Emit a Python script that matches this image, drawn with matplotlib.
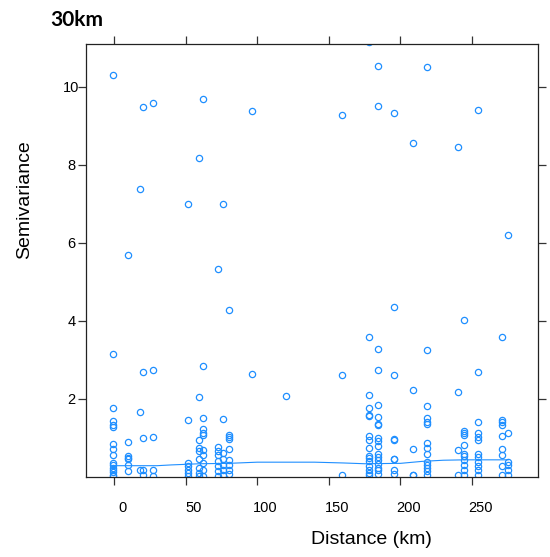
import matplotlib

matplotlib.use("Agg")
import matplotlib.pyplot as plt
import matplotlib.transforms as mtransforms
import numpy as np

# distance columns (km) and semivariance values in each column
lag_km = [-0.5, 10.0, 17.8, 20.5, 27.3, 51.6, 59.4, 62.1, 72.5, 75.9, 80.3,
          96.6, 120.0, 159.0, 178.3, 184.1, 195.5, 208.6, 218.8, 240.4, 244.6,
          254.4, 270.7, 275.3]
gamma_by_lag = [
    [10.30, 3.15, 1.76, 1.44, 1.32, 1.29, 0.85, 0.72, 0.57, 0.36, 0.32, 0.24, 0.18, 0.12, 0.06, 0.02],
    [5.69, 0.90, 0.53, 0.49, 0.45, 0.32, 0.15],
    [7.38, 1.66, 0.17],
    [9.47, 2.70, 1.00, 0.17, 0.05],
    [9.57, 2.74, 1.02, 0.19, 0.02],
    [6.99, 1.46, 0.36, 0.28, 0.19, 0.11, 0.02],
    [8.17, 2.04, 0.94, 0.74, 0.66, 0.45, 0.23, 0.11, 0.02],
    [9.69, 2.84, 1.51, 1.23, 1.14, 1.08, 0.70, 0.57, 0.36, 0.19, 0.02],
    [5.34, 0.78, 0.66, 0.57, 0.40, 0.28, 0.15, 0.02],
    [6.99, 1.48, 0.62, 0.45, 0.30, 0.17, 0.06],
    [4.29, 1.08, 1.02, 0.97, 0.72, 0.43, 0.32, 0.19, 0.07],
    [9.38, 2.64],
    [2.07],
    [9.28, 2.61, 0.04],
    [11.13, 3.59, 2.10, 1.76, 1.59, 1.57, 1.06, 0.96, 0.74, 0.53, 0.49, 0.40, 0.28, 0.19, 0.11, 0.04],
    [10.52, 9.51, 3.27, 2.74, 1.85, 1.53, 1.36, 1.34, 1.00, 0.91, 0.80, 0.60, 0.51, 0.43, 0.34, 0.24, 0.17, 0.07],
    [9.32, 4.36, 2.61, 0.97, 0.94, 0.46, 0.45, 0.17, 0.07],
    [8.55, 2.23, 0.72, 0.06, 0.04],
    [10.49, 3.25, 1.82, 1.51, 1.40, 1.36, 0.87, 0.74, 0.60, 0.38, 0.32, 0.23, 0.15, 0.06],
    [8.45, 2.17, 0.68, 0.04],
    [4.02, 1.17, 1.13, 1.08, 0.83, 0.60, 0.53, 0.43, 0.32, 0.19, 0.06],
    [9.41, 2.68, 1.41, 1.13, 1.02, 0.96, 0.60, 0.51, 0.38, 0.29, 0.19, 0.06],
    [3.59, 1.45, 1.40, 1.34, 1.06, 0.72, 0.57, 0.28, 0.06],
    [6.20, 1.13, 0.38, 0.32, 0.19, 0.06],
]

# smoothed trend line
smooth_km = [-0.5, 30, 40, 60, 80, 100, 140, 160, 175, 200, 215, 230, 245, 275.3]
smooth_gamma = [0.29, 0.29, 0.31, 0.34, 0.35, 0.38, 0.38, 0.36, 0.34, 0.35, 0.40, 0.43, 0.44, 0.44]

x_ticks = [0, 50, 100, 150, 200, 250]
y_ticks = [2, 4, 6, 8, 10]

blue = "#1f8fff"
plt.rcParams["font.family"] = ["Liberation Sans", "DejaVu Sans"]

dist = np.concatenate([[d] * len(g) for d, g in zip(lag_km, gamma_by_lag)])
gamma = np.concatenate(gamma_by_lag)

fig = plt.figure(figsize=(5.5, 5.57), dpi=100)
ax = fig.add_axes([0.1564, 0.1436, 0.8216, 0.7774])

ax.plot(dist, gamma, linestyle="none", marker="o", markersize=4.5,
        markerfacecolor="none", markeredgecolor=blue, markeredgewidth=0.9)
ax.plot(smooth_km, smooth_gamma, color=blue, linewidth=0.8)

ax.set_xlim(-19.6, 296)
ax.set_ylim(0, 11.09)
ax.set_xticks(x_ticks)
ax.set_yticks(y_ticks)

for s in ax.spines.values():
    s.set_linewidth(0.9)
    s.set_color("#222222")
ax.tick_params(direction="out", length=6, width=0.9, color="#333333",
               top=True, right=True, labeltop=False, labelright=False,
               labelsize=10.5)
ax.tick_params(axis="x", pad=11)
ax.tick_params(axis="y", pad=4.5)
plt.setp(ax.get_yticklabels(), ha="center")
# the x tick labels sit a little right of their ticks in the original
shift = mtransforms.ScaledTranslation(8 / 100, 0, fig.dpi_scale_trans)
for lbl in ax.get_xticklabels():
    lbl.set_transform(lbl.get_transform() + shift)

ax.set_xlabel("Distance (km)", fontsize=14)
ax.set_ylabel("Semivariance", fontsize=14)
ax.xaxis.set_label_coords(0.631, -0.124)
ax.yaxis.set_label_coords(-0.117, 0.640)

fig.text(0.092, 0.9526, "30km", fontsize=15, fontweight="bold",
         family=["Lato", "DejaVu Sans"], va="baseline", ha="left")

fig.savefig("out.png", dpi=100)
